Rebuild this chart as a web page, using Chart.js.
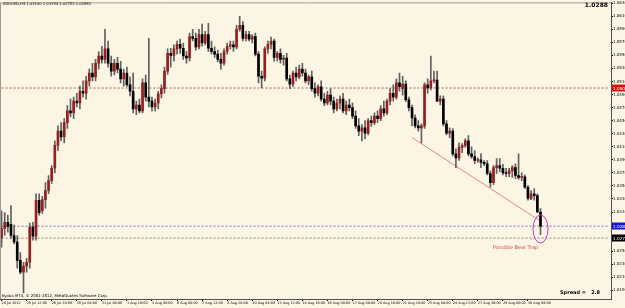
<!DOCTYPE html>
<html>
<head>
<meta charset="utf-8">
<script src="https://cdn.jsdelivr.net/npm/chart.js@4/dist/chart.umd.min.js"></script>
<style>
  html, body { margin: 0; padding: 0; background: #fcf5e4; }
  #wrap { width: 625px; height: 308px; }
</style>
</head>
<body>
<div id="wrap"><canvas id="chart" width="625" height="308"></canvas></div>
<script>
// ===============================
// DATA (AUDUSD H4)
// ===============================
const opens = [
  1.0270,1.0285,1.0294,1.0291,1.0274,1.0264,1.0236,1.0218,1.0227,1.0233,
  1.0287,1.0273,1.0328,1.0312,1.0329,1.0343,1.0358,1.0377,1.0412,1.0434,
  1.0425,1.0447,1.0465,1.0462,1.0480,1.0477,1.0495,1.0492,1.0511,1.0523,
  1.0517,1.0538,1.0549,1.0544,1.0560,1.0538,1.0526,1.0538,1.0529,1.0514,
  1.0523,1.0505,1.0495,1.0468,1.0474,1.0465,1.0508,1.0486,1.0480,1.0471,
  1.0477,1.0491,1.0499,1.0526,1.0553,1.0550,1.0560,1.0567,1.0561,1.0549,
  1.0546,1.0579,1.0576,1.0563,1.0582,1.0569,1.0582,1.0561,1.0556,1.0552,
  1.0544,1.0538,1.0556,1.0564,1.0566,1.0563,1.0590,1.0596,1.0576,1.0582,
  1.0575,1.0579,1.0552,1.0518,1.0515,1.0560,1.0567,1.0572,1.0547,1.0553,
  1.0544,1.0546,1.0514,1.0506,1.0523,1.0517,1.0529,1.0523,1.0511,1.0517,
  1.0499,1.0492,1.0502,1.0483,1.0477,1.0489,1.0480,1.0468,1.0477,1.0483,
  1.0465,1.0474,1.0470,1.0457,1.0442,1.0434,1.0439,1.0431,1.0450,1.0447,
  1.0457,1.0453,1.0468,1.0462,1.0480,1.0492,1.0486,1.0508,1.0499,1.0506,
  1.0482,1.0470,1.0454,1.0442,1.0439,1.0442,1.0505,1.0500,1.0511,1.0512,
  1.0480,1.0483,1.0445,1.0431,1.0434,1.0399,1.0393,1.0409,1.0412,1.0419,
  1.0399,1.0395,1.0389,1.0390,1.0386,1.0384,1.0369,1.0355,1.0378,1.0381,
  1.0377,1.0370,1.0369,1.0373,1.0378,1.0366,1.0363,1.0364,1.0348,1.0331,
  1.0338,1.0335,1.0310
];
const highs = [
  1.0312,1.0309,1.0305,1.0320,1.0290,1.0274,1.0248,1.0233,1.0239,1.0293,
  1.0294,1.0338,1.0338,1.0334,1.0355,1.0366,1.0381,1.0419,1.0442,1.0447,
  1.0453,1.0473,1.0483,1.0486,1.0492,1.0503,1.0511,1.0518,1.0529,1.0538,
  1.0544,1.0556,1.0564,1.0590,1.0572,1.0549,1.0544,1.0547,1.0541,1.0529,
  1.0532,1.0517,1.0523,1.0480,1.0483,1.0514,1.0520,1.0576,1.0486,1.0483,
  1.0495,1.0505,1.0532,1.0560,1.0561,1.0566,1.0572,1.0575,1.0569,1.0556,
  1.0584,1.0590,1.0584,1.0590,1.0598,1.0587,1.0599,1.0572,1.0563,1.0558,
  1.0553,1.0560,1.0569,1.0572,1.0572,1.0596,1.0610,1.0602,1.0587,1.0587,
  1.0582,1.0584,1.0556,1.0526,1.0563,1.0572,1.0578,1.0575,1.0556,1.0560,
  1.0550,1.0553,1.0520,1.0526,1.0532,1.0535,1.0538,1.0529,1.0520,1.0526,
  1.0508,1.0505,1.0511,1.0492,1.0495,1.0499,1.0486,1.0483,1.0488,1.0492,
  1.0480,1.0483,1.0477,1.0465,1.0453,1.0444,1.0450,1.0453,1.0457,1.0462,
  1.0465,1.0473,1.0480,1.0483,1.0499,1.0505,1.0514,1.0523,1.0518,1.0511,
  1.0486,1.0474,1.0459,1.0450,1.0445,1.0508,1.0514,1.0549,1.0526,1.0526,
  1.0488,1.0488,1.0450,1.0439,1.0438,1.0407,1.0416,1.0415,1.0422,1.0427,
  1.0410,1.0404,1.0393,1.0399,1.0389,1.0389,1.0373,1.0381,1.0392,1.0392,
  1.0383,1.0377,1.0377,1.0381,1.0384,1.0399,1.0370,1.0367,1.0351,1.0343,
  1.0346,1.0338,1.03154
];
const lows = [
  1.0256,1.0274,1.0279,1.0270,1.0261,1.0224,1.0215,1.0186,1.0218,1.0224,
  1.0267,1.0267,1.0305,1.0308,1.0316,1.0338,1.0354,1.0370,1.0404,1.0419,
  1.0416,1.0438,1.0456,1.0453,1.0471,1.0468,1.0486,1.0483,1.0503,1.0511,
  1.0511,1.0529,1.0538,1.0538,1.0532,1.0518,1.0520,1.0523,1.0508,1.0503,
  1.0502,1.0488,1.0462,1.0459,1.0462,1.0462,1.0480,1.0471,1.0465,1.0465,
  1.0468,1.0485,1.0492,1.0521,1.0532,1.0541,1.0552,1.0553,1.0544,1.0538,
  1.0541,1.0572,1.0558,1.0560,1.0564,1.0566,1.0556,1.0552,1.0547,1.0540,
  1.0529,1.0535,1.0552,1.0560,1.0556,1.0560,1.0587,1.0572,1.0572,1.0572,
  1.0569,1.0549,1.0508,1.0500,1.0511,1.0553,1.0560,1.0541,1.0541,1.0538,
  1.0535,1.0511,1.0499,1.0502,1.0511,1.0514,1.0518,1.0508,1.0505,1.0495,
  1.0486,1.0488,1.0480,1.0473,1.0474,1.0474,1.0462,1.0465,1.0468,1.0462,
  1.0459,1.0465,1.0453,1.0438,1.0427,1.0419,1.0422,1.0428,1.0441,1.0444,
  1.0447,1.0450,1.0457,1.0459,1.0474,1.0480,1.0483,1.0495,1.0489,1.0479,
  1.0465,1.0442,1.0439,1.0434,1.0416,1.0438,1.0492,1.0497,1.0508,1.0479,
  1.0474,1.0442,1.0428,1.0424,1.0396,1.0378,1.0389,1.0401,1.0409,1.0396,
  1.0392,1.0384,1.0386,1.0378,1.0381,1.0367,1.0348,1.0352,1.0369,1.0372,
  1.0367,1.0364,1.0364,1.0363,1.0361,1.0360,1.0358,1.0346,1.0328,1.0329,
  1.0328,1.0309,1.02753
];
const closes = [
  1.0285,1.0294,1.0288,1.0274,1.0264,1.0236,1.0218,1.0227,1.0233,1.0287,
  1.0273,1.0328,1.0309,1.0329,1.0343,1.0358,1.0377,1.0412,1.0434,1.0425,
  1.0447,1.0465,1.0462,1.0480,1.0477,1.0495,1.0492,1.0511,1.0523,1.0517,
  1.0538,1.0549,1.0544,1.0560,1.0538,1.0526,1.0538,1.0529,1.0514,1.0523,
  1.0505,1.0495,1.0468,1.0474,1.0465,1.0508,1.0486,1.0480,1.0471,1.0477,
  1.0491,1.0499,1.0526,1.0553,1.0550,1.0560,1.0567,1.0561,1.0549,1.0546,
  1.0579,1.0576,1.0563,1.0582,1.0569,1.0582,1.0561,1.0556,1.0552,1.0544,
  1.0538,1.0556,1.0564,1.0566,1.0563,1.0590,1.0596,1.0576,1.0582,1.0575,
  1.0579,1.0552,1.0518,1.0515,1.0560,1.0567,1.0572,1.0547,1.0553,1.0544,
  1.0546,1.0514,1.0506,1.0523,1.0517,1.0529,1.0523,1.0511,1.0517,1.0499,
  1.0492,1.0502,1.0483,1.0477,1.0489,1.0480,1.0468,1.0477,1.0483,1.0465,
  1.0474,1.0470,1.0457,1.0442,1.0434,1.0439,1.0431,1.0450,1.0447,1.0457,
  1.0453,1.0468,1.0462,1.0480,1.0492,1.0486,1.0508,1.0502,1.0506,1.0482,
  1.0470,1.0454,1.0442,1.0439,1.0442,1.0505,1.0500,1.0511,1.0512,1.0480,
  1.0483,1.0445,1.0431,1.0434,1.0399,1.0393,1.0409,1.0412,1.0419,1.0399,
  1.0395,1.0389,1.0390,1.0386,1.0384,1.0369,1.0355,1.0378,1.0381,1.0377,
  1.0370,1.0369,1.0373,1.0378,1.0366,1.0363,1.0364,1.0348,1.0331,1.0338,
  1.0335,1.0310,1.02883
];

// time labels, one every 8 bars
const timeLabels = [
  "24 Jul 2012", "25 Jul 12:00", "26 Jul 20:00", "30 Jul 04:00", "31 Jul 08:00",
  "1 Aug 16:00", "3 Aug 00:00", "6 Aug 08:00", "7 Aug 12:00", "8 Aug 20:00",
  "10 Aug 04:00", "13 Aug 12:00", "14 Aug 16:00", "16 Aug 00:00", "17 Aug 08:00",
  "20 Aug 16:00", "21 Aug 20:00", "23 Aug 04:00", "24 Aug 12:00", "27 Aug 16:00",
  "29 Aug 00:00", "30 Aug 08:00"
];
const labelStep = 8;
const slotCount = 195;          // bars + empty shift area on the right

const priceTicks = [
  1.0630, 1.0610, 1.0590, 1.0570, 1.0550, 1.0530, 1.0510, 1.0490, 1.0470,
  1.0450, 1.0430, 1.0410, 1.0390, 1.0370, 1.0350, 1.0330, 1.0310,
  1.0250, 1.0230, 1.0210, 1.0190
];
const priceMin = 1.01767;
const priceMax = 1.06312;

// horizontal levels: value, line colour, label box colour
const levels = [
  { value: 1.05000, line: "#a0604c", box: "#d41414" },
  { value: 1.02883, line: "#7070b8", box: "#1818d0" },
  { value: 1.02700, line: "#8c7c70", box: "#000000" }
];

// hand drawn trend line: [bar index, price]
const trendLine = [[131, 1.0424], [172, 1.0296]];
const trapBar = 172;
const trapPrice = 1.0284;

const headerText = "AUDUSD,H4 1.03100 1.03154 1.02753 1.02883";
const bidText = "1.0288";
const spreadText = "Spread =   2.8";
const copyText = "Kyobo MT4, \u00A9 2001-2012, MetaQuotes Software Corp.";
const noteText = "Possible Bear Trap";

// ===============================
// HELPERS
// ===============================
const FONT = "Tahoma, 'DejaVu Sans', sans-serif";
const categories = [];
for (let i = 0; i < slotCount; i++) {
  categories.push(i % labelStep === 0 && timeLabels[i / labelStep] ? timeLabels[i / labelStep] : "");
}

const bullColor = "#962020";
const bearColor = "#000000";

const trendData = categories.map(() => null);
trendLine.forEach(([i, v]) => { trendData[i] = v; });

// ===============================
// DECOR PLUGIN
// ===============================
const decor = {
  id: "decor",
  beforeDraw(chart) {
    const c = chart.ctx;
    c.save();
    c.fillStyle = "#fcf5e4";
    c.fillRect(0, 0, chart.width, chart.height);
    c.restore();
  },
  afterDraw(chart) {
    const c = chart.ctx;
    const a = chart.chartArea;
    const x = chart.scales.x, y = chart.scales.y;
    c.save();

    // frame
    c.strokeStyle = "#9a9a9a";
    c.lineWidth = 1;
    c.beginPath();
    c.moveTo(0.5, a.bottom);
    c.lineTo(0.5, a.top + 0.5);
    c.lineTo(a.right, a.top + 0.5);
    c.stroke();

    // header texts
    c.fillStyle = "#000";
    c.textBaseline = "middle";
    c.font = "3.7px " + FONT;
    c.textAlign = "left";
    c.fillText(headerText, 3, 4.5);
    c.font = "3.9px " + FONT;
    c.fillText(copyText, 2, 296);

    c.font = "bold 6px " + FONT;
    c.textAlign = "right";
    c.fillText(bidText, 608, 5);

    c.font = "bold 5px " + FONT;
    c.fillText(spreadText, 600, 293);

    // level labels on the price axis
    c.font = "4.2px " + FONT;
    c.textAlign = "left";
    levels.forEach(l => {
      const py = Math.round(y.getPixelForValue(l.value));
      c.fillStyle = l.box;
      c.fillRect(a.right + 1, py - 3.5, 14, 7);
      c.fillStyle = "#fff";
      c.fillText(l.value.toFixed(5), a.right + 2, py + 0.5);
    });

    // ellipse round the last bar
    const ex = x.getPixelForValue(trapBar);
    const ey = y.getPixelForValue(trapPrice);
    c.strokeStyle = "#c43cb4";
    c.lineWidth = 1;
    c.beginPath();
    c.ellipse(ex, ey, 7.5, 14, 0, 0, Math.PI * 2);
    c.stroke();

    c.fillStyle = "#d24a4a";
    c.font = "5px " + FONT;
    c.textAlign = "center";
    c.fillText(noteText, x.getPixelForValue(164), y.getPixelForValue(1.0255));

    c.restore();
  }
};

// ===============================
// CHART
// ===============================
const ctx = document.getElementById("chart").getContext("2d");

const levelSets = levels.map(l => ({
  type: "line",
  data: categories.map(() => l.value),
  borderColor: l.line,
  borderWidth: 1,
  borderDash: [2, 2],
  pointRadius: 0,
  order: 5
}));

new Chart(ctx, {
  type: "bar",
  data: {
    labels: categories,
    datasets: [
      {
        data: opens.map((o, i) => [o, closes[i]]),
        backgroundColor: opens.map((o, i) => closes[i] >= o ? bullColor : bearColor),
        barThickness: 2,
        minBarLength: 1,
        grouped: false,
        order: 1
      },
      {
        data: lows.map((l, i) => [l, highs[i]]),
        backgroundColor: "#606060",
        barThickness: 1,
        grouped: false,
        order: 2
      },
      {
        type: "line",
        data: trendData,
        spanGaps: true,
        borderColor: "#dc8c8c",
        borderWidth: 1,
        pointRadius: 0,
        order: 4
      },
      ...levelSets
    ]
  },
  options: {
    responsive: false,
    animation: false,
    devicePixelRatio: 1,
    layout: { padding: { top: 1, left: 0, right: 0, bottom: 0 } },
    plugins: { legend: { display: false }, tooltip: { enabled: false } },
    scales: {
      x: {
        type: "category",
        offset: true,
        grid: {
          drawOnChartArea: false,
          offset: false,
          tickLength: 2,
          color: c => categories[c.index] ? "#000" : "rgba(0,0,0,0)"
        },
        border: { color: "#505050" },
        ticks: {
          autoSkip: false,
          maxRotation: 0,
          minRotation: 0,
          align: "start",
          padding: 0,
          color: "#000",
          font: { size: 3.4, family: FONT },
          callback: (v, i) => categories[i]
        },
        afterFit: s => { s.height = 9; }
      },
      y: {
        position: "right",
        min: priceMin,
        max: priceMax,
        afterBuildTicks: s => { s.ticks = priceTicks.map(v => ({ value: v })); },
        grid: { drawOnChartArea: false, tickLength: 2, color: "#000" },
        border: { color: "#505050" },
        ticks: {
          padding: 0,
          color: "#000",
          font: { size: 4, family: FONT },
          callback: v => v.toFixed(5)
        },
        afterFit: s => { s.width = 14; }
      }
    }
  },
  plugins: [decor]
});
</script>
</body>
</html>
